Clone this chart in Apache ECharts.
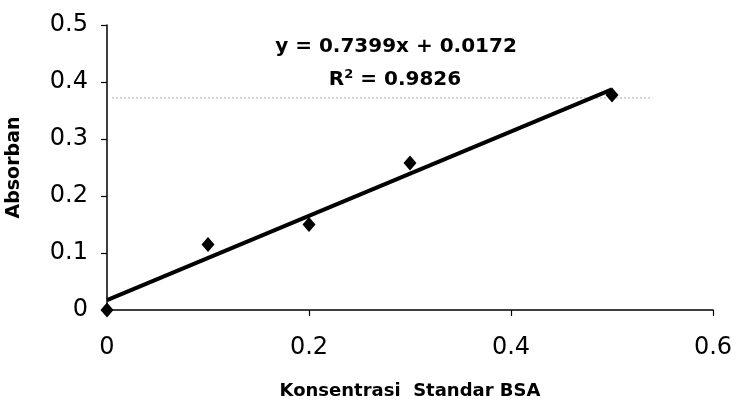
<!DOCTYPE html>
<html>
<head>
<meta charset="utf-8">
<script src="https://cdn.jsdelivr.net/npm/echarts@6/dist/echarts.min.js"></script>
<style>
  html, body { margin: 0; padding: 0; background: #fff; }
  #chart { width: 736px; height: 402px; }
</style>
</head>
<body>
<div id="chart"></div>
<script>
// data
var konsentrasi = [0, 0.1, 0.2, 0.3, 0.5]
var absorban = [0, 0.115, 0.15, 0.258, 0.377]

// trend line (linear fit shown on chart)
var slope = 0.7399
var intercept = 0.0172
var trendX = [0, 0.5]
var eqText = 'y = 0.7399x + 0.0172'
var r2Text = '0.9826'

// faint dotted scan line across the plot
var scanLineY = 0.372
var scanLineX = [0.005, 0.54]

var xTicks = [0, 0.2, 0.4, 0.6]

var points = konsentrasi.map(function (x, i) { return [x, absorban[i]] })
var trend = trendX.map(function (x) { return [x, slope * x + intercept] })

var font = 'DejaVu Sans'
var chart = echarts.init(document.getElementById('chart'))

chart.setOption({
  animation: false,
  backgroundColor: '#fff',
  grid: { left: 107, right: 23, top: 25, bottom: 92, outerBoundsMode: 'none' },
  xAxis: {
    type: 'value',
    min: 0, max: 0.6, interval: 0.2,
    name: 'Konsentrasi  Standar BSA',
    nameLocation: 'middle',
    nameGap: 72,
    nameTextStyle: { fontFamily: font, fontWeight: 'bold', fontSize: 18, color: '#000' },
    axisLine: { lineStyle: { color: '#000', width: 1.5 } },
    axisTick: { show: true, length: 6, lineStyle: { color: '#000', width: 1.2 } },
    axisLabel: {
      margin: 26, fontFamily: font, fontSize: 24, color: '#000',
      formatter: function (v) { return xTicks.indexOf(+v.toFixed(1)) >= 0 ? String(+v.toFixed(1)) : '' }
    },
    splitLine: { show: false }
  },
  yAxis: {
    type: 'value',
    min: 0, max: 0.5, interval: 0.1,
    name: 'Absorban',
    nameLocation: 'middle',
    nameGap: 83,
    nameTextStyle: { fontFamily: font, fontWeight: 'bold', fontSize: 19, color: '#000' },
    axisLine: { show: true, lineStyle: { color: '#000', width: 1.5 } },
    axisTick: { show: true, length: 6, lineStyle: { color: '#000', width: 1.2 } },
    axisLabel: {
      margin: 19, fontFamily: font, fontSize: 24, color: '#000',
      formatter: function (v) { return String(+v.toFixed(1)) }
    },
    splitLine: { show: false }
  },
  graphic: [
    {
      type: 'text', x: 396, y: 47,
      style: {
        text: eqText, font: 'bold 20px "DejaVu Sans"', fill: '#000',
        align: 'center', verticalAlign: 'middle'
      }
    },
    {
      type: 'text', x: 395, y: 80,
      style: {
        text: '{r|R}{s|2}{r| = ' + r2Text + '}',
        align: 'center', verticalAlign: 'middle',
        rich: {
          r: { font: 'bold 20px "DejaVu Sans"', fill: '#000' },
          s: { font: 'bold 13px "DejaVu Sans"', fill: '#000', verticalAlign: 'top', padding: [0, 0, 10, 0] }
        }
      }
    }
  ],
  series: [
    {
      type: 'line',
      data: [[scanLineX[0], scanLineY], [scanLineX[1], scanLineY]],
      showSymbol: false,
      silent: true,
      lineStyle: { color: '#aaa', width: 1, type: [2, 2] },
      z: 1
    },
    {
      type: 'line',
      data: trend,
      showSymbol: false,
      lineStyle: { color: '#000', width: 4 },
      z: 2
    },
    {
      type: 'scatter',
      data: points,
      symbol: 'diamond',
      symbolSize: [13, 15],
      itemStyle: { color: '#000', opacity: 1 },
      z: 3
    }
  ]
})
</script>
</body>
</html>
